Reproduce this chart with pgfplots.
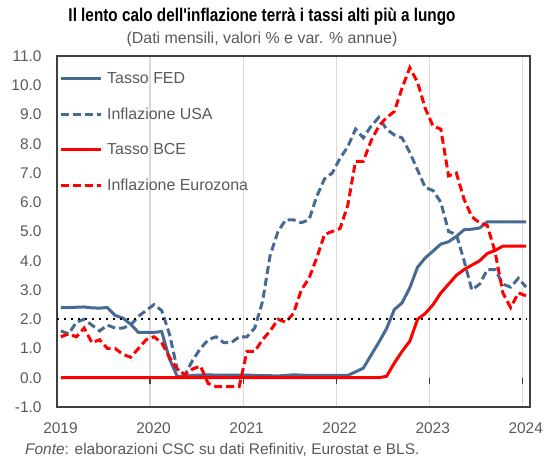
\documentclass[border=0pt]{standalone}
\usepackage{fontspec}
\setmainfont{Liberation Sans}
\newfontfamily\titlefont[FakeStretch=0.83]{Liberation Sans}
\usepackage{pgfplots}
\usepackage{pgfplotstable}
\pgfplotsset{compat=1.18}
\definecolor{fedblue}{RGB}{70,106,148}
\definecolor{ecbred}{RGB}{255,0,0}
\definecolor{txtgray}{RGB}{89,89,89}
\definecolor{gridgray}{RGB}{217,217,217}
\definecolor{framegray}{RGB}{64,64,64}

\pgfplotstableread{
x fed us ecb ez
0.5 2.40 1.6 0 1.4
1.5 2.40 1.5 0 1.5
2.5 2.41 1.9 0 1.4
3.5 2.42 2.0 0 1.7
4.5 2.39 1.8 0 1.2
5.5 2.38 1.6 0 1.3
6.5 2.40 1.8 0 1.0
7.5 2.13 1.7 0 1.0
8.5 2.04 1.7 0 0.8
9.5 1.83 1.8 0 0.7
10.5 1.55 2.1 0 1.0
11.5 1.55 2.3 0 1.3
12.5 1.55 2.5 0 1.4
13.5 1.58 2.3 0 1.2
14.5 0.65 1.5 0 0.7
15.5 0.05 0.3 0 0.3
16.5 0.05 0.1 0 0.1
17.5 0.08 0.6 0 0.3
18.5 0.09 1.0 0 0.4
19.5 0.10 1.3 0 -0.2
20.5 0.09 1.4 0 -0.3
21.5 0.09 1.2 0 -0.3
22.5 0.09 1.2 0 -0.3
23.5 0.09 1.4 0 -0.3
24.5 0.09 1.4 0 0.9
25.5 0.08 1.7 0 0.9
26.5 0.07 2.6 0 1.3
27.5 0.07 4.2 0 1.6
28.5 0.06 5.0 0 2.0
29.5 0.08 5.4 0 1.9
30.5 0.10 5.4 0 2.2
31.5 0.09 5.3 0 3.0
32.5 0.08 5.4 0 3.4
33.5 0.08 6.2 0 4.1
34.5 0.08 6.8 0 4.9
35.5 0.08 7.0 0 5.0
36.5 0.08 7.5 0 5.1
37.5 0.08 7.9 0 5.9
38.5 0.20 8.5 0 7.4
39.5 0.33 8.2 0 7.4
40.5 0.77 8.6 0 8.1
41.5 1.21 8.9 0 8.6
42.5 1.68 8.5 0.05 8.9
43.5 2.33 8.3 0.5 9.1
44.5 2.56 8.2 0.9 9.9
45.5 3.08 7.7 1.25 10.6
46.5 3.78 7.1 2.0 10.1
47.5 4.10 6.5 2.2 9.2
48.5 4.33 6.4 2.5 8.6
49.5 4.57 6.0 2.9 8.5
50.5 4.65 5.0 3.2 6.9
51.5 4.83 4.9 3.5 7.0
52.5 5.06 4.0 3.7 6.1
53.5 5.08 3.0 3.85 5.5
54.5 5.12 3.2 4.0 5.3
55.5 5.33 3.7 4.25 5.2
56.5 5.33 3.7 4.35 4.3
57.5 5.33 3.2 4.5 2.9
58.5 5.33 3.1 4.5 2.4
59.5 5.33 3.4 4.5 2.9
60.5 5.33 3.1 4.5 2.8
}\data

\begin{document}
\begin{tikzpicture}[x=1bp,y=1bp]
\path[use as bounding box] (-57,-57) rectangle (495,407);
\begin{axis}[
  at={(0,0)}, anchor=south west,
  scale only axis, width=473bp, height=351bp,
  xmin=0, xmax=61, ymin=-1, ymax=11,
  xtick={0,12,24,36,48,60},
  xticklabels={2019,2020,2021,2022,2023,2024},
  ytick={-1,0,1,2,3,4,5,6,7,8,9,10,11},
  yticklabel style={/pgf/number format/fixed, /pgf/number format/fixed zerofill, /pgf/number format/precision=1, /pgf/number format/assume math mode=true},
  yticklabel style={font=\fontsize{15.5}{17}\selectfont, text=txtgray, xshift=-12bp},
  xticklabel style={font=\fontsize{15.5}{17}\selectfont, text=txtgray, yshift=-12bp, xshift=3.5bp},
  major tick length=0pt,
  xmajorgrids, major grid style={gridgray, line width=1.2bp},
  axis line style={framegray, line width=1.5bp},
  legend style={at={(axis description cs:0,1)}, anchor=north west, xshift=2bp, yshift=-14bp,
    draw=none, fill=none, font=\fontsize{16}{18}\selectfont, text=txtgray,
    row sep=19bp, inner sep=0pt, cells={anchor=west},
    /tikz/every odd column/.append style={column sep=3bp}},
  legend image code/.code={\draw[#1] (0bp,0bp) -- (40bp,0bp);},
]
\addplot[fedblue, line width=3bp] table[x=x, y=fed] {\data};
\addlegendentry{Tasso FED}
\addplot[fedblue, line width=3bp, dash pattern=on 8bp off 4bp] table[x=x, y=us] {\data};
\addlegendentry{Inflazione USA}
\addplot[ecbred, line width=3bp] table[x=x, y=ecb] {\data};
\addlegendentry{Tasso BCE}
\addplot[ecbred, line width=3bp, dash pattern=on 8bp off 4bp] table[x=x, y=ez] {\data};
\addlegendentry{Inflazione Eurozona}
\addplot[black, line width=2.2bp, dash pattern=on 2.2bp off 4.8bp, forget plot] coordinates {(0,2) (60.6,2)};
\draw[framegray, line width=1.2bp] (axis cs:0,0) -- (axis cs:0,-0.2);
\draw[framegray, line width=1.2bp] (axis cs:12,0) -- (axis cs:12,-0.2);
\draw[framegray, line width=1.2bp] (axis cs:24,0) -- (axis cs:24,-0.2);
\draw[framegray, line width=1.2bp] (axis cs:36,0) -- (axis cs:36,-0.2);
\draw[framegray, line width=1.2bp] (axis cs:48,0) -- (axis cs:48,-0.2);
\draw[framegray, line width=1.2bp] (axis cs:60,0) -- (axis cs:60,-0.2);
\end{axis}
\node[anchor=base, font=\titlefont\bfseries\fontsize{18.5}{21}\selectfont] at (205,385) {Il lento calo dell'inflazione terrà i tassi alti più a lungo};
\node[anchor=base, font=\fontsize{16}{18}\selectfont, text=txtgray] at (205,363) {(Dati mensili, valori \% e var. \% annue)};
\node[anchor=base west, font=\fontsize{15.5}{17}\selectfont, text=txtgray, inner sep=0pt] at (-32,-48) {\textit{Fonte}: elaborazioni CSC su dati Refinitiv, Eurostat e BLS.};
\end{tikzpicture}
\end{document}
